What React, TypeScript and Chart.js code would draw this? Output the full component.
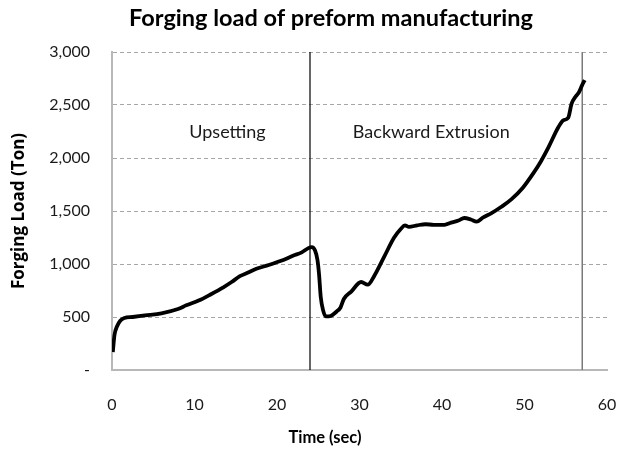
import React, { useEffect, useRef } from "react";
import { Chart, registerables } from "chart.js";

Chart.register(...registerables);

const timeSec = [0.1, 0.3, 0.6, 1.0, 1.5, 2.5, 4, 6, 8, 9, 10.5, 12, 13.5, 14.5, 15.5, 16.5, 17.5, 19, 20.5, 22, 23, 23.8, 24.2, 24.6, 24.9, 25.1, 25.3, 25.6, 25.9, 26.5, 27.2, 27.7, 28.1, 29, 30.2, 31, 31.8, 33, 34.2, 35, 35.5, 36, 37, 38, 39, 40.3, 41.1, 42, 42.7, 43.5, 44.2, 45, 46, 47.2, 48.4, 49.8, 51.1, 52, 52.9, 54.1, 54.7, 55.3, 55.7, 56.2, 56.6, 57, 57.3];
const loadTon = [170, 330, 410, 465, 490, 500, 515, 535, 575, 610, 655, 715, 780, 830, 885, 920, 955, 990, 1030, 1080, 1110, 1150, 1160, 1130, 1040, 900, 690, 560, 505, 510, 550, 590, 670, 740, 830, 805, 890, 1070, 1250, 1330, 1365, 1350, 1365, 1375, 1370, 1370, 1390, 1410, 1434, 1420, 1400, 1440, 1480, 1540, 1610, 1720, 1860, 1970, 2100, 2290, 2355, 2380, 2510, 2580, 2620, 2690, 2735];

const phaseBoundaries = [24, 57];
const phaseBoundaryColors = ["#000000", "#7a7a7a"];
const phaseLabels = ["Upsetting", "Backward Extrusion"];
const phaseLabelX = [14.0, 38.7];
const phaseLabelY = [2245, 2245];

const xTickMin = 0;
const xTickMax = 60;
const xTickStep = 10;
const yTickMin = 0;
const yTickMax = 3000;
const yTickStep = 500;

const chartTitle = "Forging load of preform manufacturing";
const xTitle = "Time (sec)";
const yTitle = "Forging Load (Ton)";

export default function App() {
  const ref = useRef<HTMLCanvasElement | null>(null);
  useEffect(() => {
    if (!ref.current) return;
    const textPlugin = {
      id: "textPlugin",
      afterDraw(chart: any) {
        const { ctx, scales } = chart;
        ctx.save();
        ctx.fillStyle = "#000";
        ctx.textAlign = "center";
        ctx.textBaseline = "middle";
        ctx.font = "bold 23.5px Lato";
        ctx.fillText(chartTitle, 331, 18);
        ctx.font = "bold 16.5px Lato";
        ctx.fillText(xTitle, 325, 438);
        ctx.font = "18px Lato";
        ctx.fillStyle = "#1a1a1a";
        phaseLabels.forEach((txt, i) => {
          ctx.fillText(txt, scales.x.getPixelForValue(phaseLabelX[i]), scales.y.getPixelForValue(phaseLabelY[i]));
        });
        ctx.restore();
      },
    };
    const datasets: any[] = [
      {
        data: timeSec.map((t, i) => ({ x: t, y: loadTon[i] })),
        borderColor: "#000",
        borderWidth: 3.8,
        pointRadius: 0,
        showLine: true,
        cubicInterpolationMode: "monotone",
      },
      ...phaseBoundaries.map((b, i) => ({
        data: [
          { x: b, y: yTickMin },
          { x: b, y: yTickMax },
        ],
        borderColor: phaseBoundaryColors[i],
        borderWidth: i === 0 ? 1.2 : 1.5,
        pointRadius: 0,
        showLine: true,
      })),
    ];
    const chart = new Chart(ref.current, {
      type: "scatter",
      data: { datasets },
      plugins: [textPlugin],
      options: {
        animation: false,
        responsive: false,
        devicePixelRatio: 1,
        layout: { padding: { left: 0, right: 23, top: 52, bottom: 0 } },
        plugins: {
          legend: { display: false },
          tooltip: { enabled: false },
          title: { display: false },
        },
        scales: {
          x: {
            type: "linear",
            min: xTickMin,
            max: xTickMax,
            ticks: { stepSize: xTickStep, padding: 2, color: "#1a1a1a", font: { family: "Lato", size: 16 } },
            grid: { display: false, drawTicks: true, tickLength: 23 },
            border: { display: true, color: "#b8b8b8", width: 2 },
            title: { display: false },
            afterFit: (s: any) => { s.height = 82; },
          },
          y: {
            type: "linear",
            min: yTickMin,
            max: yTickMax,
            ticks: {
              stepSize: yTickStep,
              padding: 22,
              color: "#1a1a1a",
              font: { family: "Lato", size: 16 },
              callback: (v: any) => (v === 0 ? "-" : Number(v).toLocaleString("en-US")),
            },
            grid: {
              drawTicks: false,
              color: (c: any) => (c.tick && c.tick.value === 0 ? "rgba(0,0,0,0)" : "#a6a6a6"),
              lineWidth: 1,
            },
            border: { display: true, color: "#b8b8b8", width: 2, dash: [4, 3] } as any,
            title: { display: true, text: yTitle, color: "#000", font: { family: "Open Sans", size: 17, weight: "bold" }, padding: { top: 9, bottom: 0 } },
            afterFit: (s: any) => { s.width = 112; },
          },
        },
      } as any,
    });
    return () => chart.destroy();
  }, []);
  return (
    <div style={{ position: "absolute", left: 0, top: 0, width: 630, height: 452, background: "#fff" }}>
      <canvas ref={ref} width={630} height={452} />
    </div>
  );
}
